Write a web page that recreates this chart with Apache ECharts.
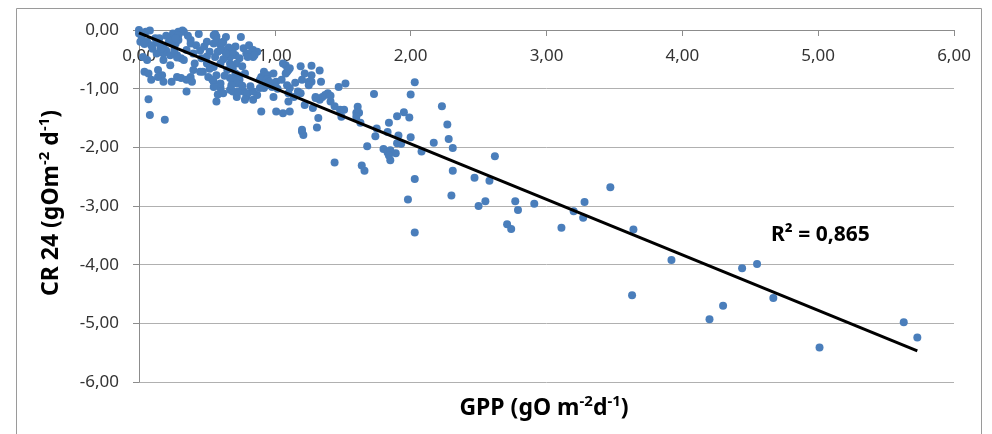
<!DOCTYPE html>
<html>
<head>
<meta charset="utf-8">
<script src="https://cdn.jsdelivr.net/npm/echarts@6/dist/echarts.min.js"></script>
<style>
html,body{margin:0;padding:0;background:#fff;}
#chart{width:992px;height:434px;}
</style>
</head>
<body>
<div id="chart"></div>
<script>
// ---- data (GPP, CR24) ----
const obsLow = [
[0.00,0.00],[0.08,-0.01],[0.05,-0.03],[0.00,-0.06],[0.03,-0.07],[0.02,-0.12],[0.12,-0.14],[0.15,-0.14],[0.01,-0.20],[0.06,-0.20],
[0.13,-0.17],[0.04,-0.24],[0.09,-0.26],[0.14,-0.22],[0.18,-0.28],[0.22,-0.20],[0.23,-0.14],[0.25,-0.06],[0.29,-0.03],[0.33,-0.03],
[0.32,-0.01],[0.27,-0.23],[0.29,-0.17],[0.29,-0.09],[0.27,-0.14],[0.38,-0.17],[0.38,-0.23],[0.44,-0.07],[0.42,-0.26],[0.35,-0.34],
[0.10,-0.32],[0.20,-0.35],[0.45,-0.35],[0.48,-0.28],[0.06,-0.51],[0.13,-0.40],[0.18,-0.40],[0.28,-0.43],[0.31,-0.48],[0.03,-0.46],
[0.18,-0.51],[0.23,-0.43],[0.28,-0.47],[0.33,-0.51],[0.23,-0.60],[0.41,-0.57],[0.46,-0.48],[0.40,-0.68],[0.45,-0.71],[0.04,-0.71],
[0.07,-0.74],[0.14,-0.68],[0.17,-0.77],[0.09,-0.85],[0.14,-0.80],[0.18,-0.88],[0.24,-0.88],[0.28,-0.80],[0.31,-0.82],[0.35,-0.85],
[0.38,-0.80],[0.39,-0.88],[0.35,-1.05],[0.47,-0.71],[0.07,-1.18],[0.08,-1.45],[0.19,-1.53],
[0.20,-0.10],[0.36,-0.10],[0.16,-0.32],[0.26,-0.34],[0.40,-0.40]
];
const obsMid = [
[0.56,-0.07],[0.57,-0.11],[0.75,-0.12],[0.50,-0.20],[0.55,-0.23],[0.60,-0.26],[0.62,-0.20],[0.55,-0.09],[0.57,-0.17],[0.61,-0.23],
[0.71,-0.28],[0.77,-0.31],[0.81,-0.26],[0.84,-0.34],[0.79,-0.40],[0.84,-0.46],[0.87,-0.37],[0.71,-0.43],[0.74,-0.48],[0.72,-0.57],
[0.52,-0.37],[0.58,-0.37],[0.61,-0.34],[0.56,-0.46],[0.67,-0.46],[0.69,-0.37],[0.50,-0.57],[0.55,-0.63],[0.60,-0.57],[0.65,-0.68],
[0.67,-0.57],[0.69,-0.65],[0.51,-0.80],[0.55,-0.88],[0.57,-0.77],[0.60,-0.99],[0.62,-1.08],[0.67,-0.82],[0.69,-0.91],[0.73,-0.77],
[0.74,-0.85],[0.78,-0.74],[0.57,-1.22],[0.67,-1.02],[0.72,-1.08],[0.77,-1.05],[0.79,-1.14],[0.84,-1.19],[0.87,-1.11],[0.89,-0.99],
[0.90,-0.80],[0.92,-0.71],[0.95,-0.77],[0.99,-0.74],[0.94,-0.94],[0.98,-0.97],[0.90,-1.39],[0.54,-0.85],[0.55,-0.97],[0.60,-0.91],
[0.69,-1.05],[0.72,-1.14],[0.83,-0.37],[0.85,-0.43],[0.80,-0.46],[0.68,-0.63],[0.71,-0.74],[0.69,-0.85],[0.72,-0.91],[0.68,-0.94],
[0.73,-1.05],[0.80,-1.08],[0.84,-1.05],[0.78,-1.19],[0.89,-0.85],[0.94,-0.85],[0.96,-0.88],[0.92,-0.99],[0.99,-1.14],[0.58,-1.10],
[0.64,-0.12],[0.66,-0.30],
[0.62,-0.50],[0.64,-0.40],[0.52,-0.66],[0.63,-0.78],[0.76,-0.95],[0.82,-0.96],[0.50,-0.45],[0.76,-0.62]
];
const obsHigh = [
[1.01,-0.88],[1.05,-0.85],[1.08,-0.60],[1.09,-0.71],[1.11,-0.65],[1.06,-0.57],[1.10,-0.68],[1.08,-0.74],[1.19,-0.62],[1.27,-0.61],
[1.33,-0.69],[1.20,-0.85],[1.27,-0.88],[1.34,-0.88],[1.22,-0.74],[1.27,-0.77],[1.25,-0.88],[1.25,-0.94],[1.09,-0.94],[1.11,-0.99],
[1.01,-1.39],[1.06,-1.42],[1.11,-1.39],[1.10,-1.22],[1.14,-1.14],[1.17,-1.05],[1.10,-1.08],[1.20,-1.73],[1.21,-1.79],[1.22,-1.28],
[1.28,-1.33],[1.30,-1.16],[1.33,-1.19],[1.35,-1.14],[1.37,-1.11],[1.39,-1.08],[1.32,-1.50],[1.31,-1.66],[1.20,-1.70],[1.19,-1.08],
[1.41,-1.22],[1.47,-0.97],[1.52,-0.91],[1.44,-1.30],[1.48,-1.36],[1.51,-1.36],[1.49,-1.48],[1.41,-1.12],[1.44,-2.26],[1.30,-1.14],
[1.02,-1.00],[1.15,-0.90]
];
const obsUpper = [
[1.61,-1.31],[1.60,-1.41],[1.62,-1.41],[1.60,-1.48],[1.63,-1.58],[1.73,-1.09],[1.75,-1.68],[1.74,-1.81],[1.68,-1.98],[1.64,-2.31],
[1.66,-2.40],[1.84,-1.58],[1.83,-1.74],[1.90,-1.47],[1.95,-1.40],[1.99,-1.49],[1.91,-1.80],[1.90,-1.93],[1.93,-1.94],[2.00,-1.83],
[2.03,-0.89],[2.00,-1.10],[1.80,-2.03],[1.83,-2.09],[1.89,-2.10],[1.85,-2.22],[1.85,-2.05],[1.84,-2.14],[2.08,-2.07],[2.03,-2.54],
[1.98,-2.89],[2.03,-3.45],[2.17,-1.92],[2.23,-1.30],[2.27,-1.61],[2.28,-1.86],[2.31,-2.01]
];
const obsTail = [
[2.31,-2.40],[2.62,-2.15],[2.47,-2.52],[2.58,-2.57],[2.30,-2.82],[2.50,-3.00],[2.55,-2.92],[2.77,-2.92],[2.79,-3.07],[2.91,-2.96],
[2.71,-3.31],[2.74,-3.39],[3.11,-3.37],[3.20,-3.09],[3.28,-2.93],[3.27,-3.20],[3.47,-2.68],[3.64,-3.40],[3.63,-4.52],[3.92,-3.92],
[4.20,-4.93],[4.30,-4.70],[4.44,-4.06],[4.55,-3.99],[4.67,-4.57],[5.01,-5.41],[5.63,-4.98],[5.73,-5.24]
];
// linear trend line (as drawn in the reference)
const trendGpp = [0.00, 5.73];
const trendCr = [-0.05, -5.47];
const r2Text = 'R² = 0,865';
const xTicks = [0, 1, 2, 3, 4, 5, 6];
const yTicks = [0, -1, -2, -3, -4, -5, -6];

const observations = obsLow.concat(obsMid, obsHigh, obsUpper, obsTail);
const trendData = trendGpp.map((g, i) => [g, trendCr[i]]);
const fmt = v => {
  const s = Math.abs(v) < 1e-9 ? '0.00' : v.toFixed(2);
  return s.replace('.', ',');
};

const axisGray = '#8c8c8c';
const labelFont = 'Noto Sans';
const nameRich = {
  m: {fontFamily: 'Noto Sans', fontWeight: 'bold', fontSize: 23, lineHeight: 28, fill: '#000', color: '#000'},
  s: {fontFamily: 'Noto Sans', fontWeight: 'bold', fontSize: 15, lineHeight: 17, verticalAlign: 'top', fill: '#000', color: '#000'}
};
const chart = echarts.init(document.getElementById('chart'), null, {renderer: 'canvas'});
chart.setOption({
  backgroundColor: '#ffffff',
  animation: false,
  grid: {left: 139, right: 38, top: 30, bottom: 52, containLabel: false},
  xAxis: {
    type: 'value', position: 'top', min: xTicks[0], max: xTicks[xTicks.length - 1], interval: 1,
    axisLine: {show: true, onZero: false, lineStyle: {color: axisGray, width: 1}},
    axisTick: {show: true, inside: true, length: 6, lineStyle: {color: axisGray}},
    axisLabel: {inside: true, margin: 18, formatter: fmt, color: '#333', fontFamily: labelFont, fontSize: 17},
    splitLine: {show: false}
  },
  yAxis: {
    type: 'value', min: yTicks[yTicks.length - 1], max: yTicks[0], interval: 1,
    axisLine: {show: true, onZero: false, lineStyle: {color: axisGray, width: 1}},
    axisTick: {show: true, inside: false, length: 6, lineStyle: {color: axisGray}},
    axisLabel: {margin: 20, formatter: fmt, color: '#333', fontFamily: labelFont, fontSize: 17},
    splitLine: {show: true, lineStyle: {color: '#b0b0b0', width: 1}}
  },
  series: [
    {
      type: 'scatter', data: observations, symbol: 'circle', symbolSize: 8,
      itemStyle: {color: '#4a7ebb', opacity: 1}, z: 2
    },
    {
      type: 'line', data: trendData, showSymbol: false, symbol: 'none',
      lineStyle: {color: '#000', width: 3}, z: 3
    }
  ],
  graphic: [
    {type: 'rect', shape: {x: 16.5, y: 8.5, width: 965, height: 440}, style: {fill: 'none', stroke: '#9a9a9a', lineWidth: 1}, silent: true, z: -1},
    {type: 'text', left: 771, top: 225, style: {text: r2Text, font: 'bold 21px "Noto Sans"', fill: '#000'}},
    {type: 'text', x: 544, y: 408,
      style: {text: '{m|GPP (gO m}{s|-2}{m|d}{s|-1}{m|)}', align: 'center', verticalAlign: 'middle', rich: nameRich}
    },
    {type: 'text', x: 51, y: 203, rotation: Math.PI / 2,
      style: {text: '{m|CR 24 (gOm}{s|-2}{m| d}{s|-1}{m|)}', align: 'center', verticalAlign: 'middle', rich: nameRich}
    }
  ]
});
</script>
</body>
</html>
